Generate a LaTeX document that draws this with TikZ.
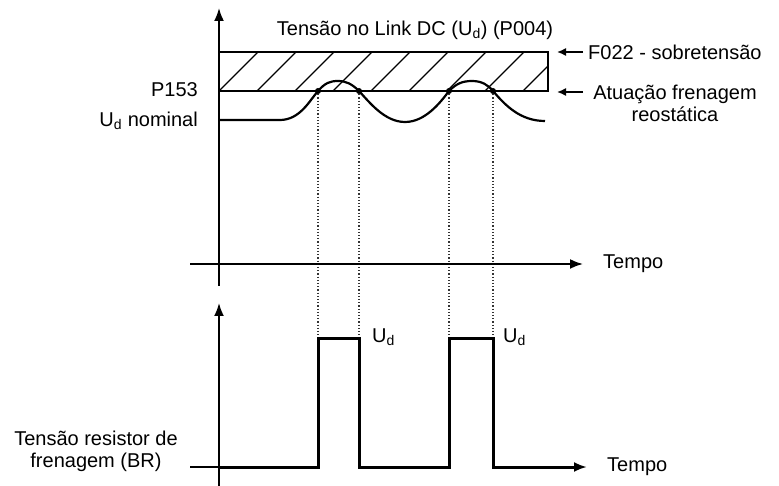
\documentclass[tikz,border=0pt]{standalone}
\usepackage{fontspec}
\setmainfont{Liberation Sans}
\usetikzlibrary{arrows.meta}
\begin{document}
\begin{tikzpicture}[x=1pt,y=-1pt,
  lbl/.style={inner sep=0pt,font=\fontsize{20}{22}\selectfont},
  axis/.style={line width=1.8pt,-{Latex[length=13,width=10]}},
  smallarr/.style={line width=1.5pt,-{Latex[length=9,width=8]}},
  dotline/.style={line width=1.2pt,dotted,black!80},
  curve/.style={line width=2.2pt},
  pulse/.style={line width=3pt,line join=miter},
  hatch/.style={line width=1.3pt},
  dotmark/.style={circle,fill=black,inner sep=0pt,minimum size=6pt}]
\useasboundingbox (0,0) rectangle (779,486);
% coordinates
\coordinate (yA0) at (219,286); \coordinate (yA1) at (219,8);
\coordinate (xA0) at (190,264); \coordinate (xA1) at (583,264);
\coordinate (yB0) at (219,486); \coordinate (yB1) at (219,303);
\coordinate (xB0) at (190,467); \coordinate (xB1) at (587,467);
\coordinate (rTL) at (219,52); \coordinate (rBR) at (548,91);
% hatched band
\begin{scope}
\clip (rTL) rectangle (rBR);
\foreach \k in {-1,0,...,9} {
  \draw[hatch] ({219+38*\k},91) -- ({219+38*\k+39},52);
}
\end{scope}
\draw[line width=1.8pt] (219,52) -- (548,52) -- (548,91) -- (219,91);
% curve
\draw[curve] (219,120) -- (280,120)
  .. controls (300,120) and (310,100) .. (318,91)
  .. controls (325,83) and (330,81) .. (338,81)
  .. controls (346,81) and (352,84) .. (359,91)
  .. controls (370,103) and (385,122) .. (405,122)
  .. controls (425,122) and (440,103) .. (449,91)
  .. controls (456,84) and (462,81) .. (472,81)
  .. controls (482,81) and (488,85) .. (493,91)
  .. controls (505,105) and (520,121) .. (545,121);
\node[dotmark] (d1) at (318,91) {};
\node[dotmark] (d2) at (359,91) {};
\node[dotmark] (d3) at (449,91) {};
\node[dotmark] (d4) at (493,91) {};
\coordinate (p1) at (318,338); \coordinate (p2) at (359,338);
\coordinate (p3) at (449,338); \coordinate (p4) at (493,338);
\draw[dotline] (d1) -- (p1);
\draw[dotline] (d2) -- (p2);
\draw[dotline] (d3) -- (p3);
\draw[dotline] (d4) -- (p4);
% axes
\draw[axis] (yA0) -- (yA1);
\draw[axis] (xA0) -- (xA1);
\draw[axis] (yB0) -- (yB1);
\draw[line width=1.5pt] (xB0) -- (219,467);
\draw[pulse] (219,467) -- (318,467) -- (p1) -- (p2) -- (359,467) -- (449,467) -- (p3) -- (p4) -- (493,467) -- (575,467);
\draw[line width=3pt,-{Latex[length=13,width=10]}] (570,467) -- (xB1);
% labels
\node[lbl] (title) at (415,30) {Tensão no Link DC (U\textsubscript{d}) (P004)};
\node[lbl,anchor=east] (p153) at (198,90) {P153};
\node[lbl,anchor=east] (udn) at (198,121) {U\textsubscript{d} nominal};
\node[lbl,anchor=west] (f022) at (588,52) {F022 - sobretensão};
\node[lbl,align=center] (atu) at (675,103) {Atuação frenagem\\reostática};
\coordinate (f022a) at (583,52); \coordinate (f022b) at (557,52);
\coordinate (atua) at (583,92); \coordinate (atub) at (557,92);
\draw[smallarr] (f022a) -- (f022b);
\draw[smallarr] (atua) -- (atub);
\node[lbl,anchor=west] (t1) at (603,264) {Tempo};
\node[lbl,anchor=west] (t2) at (607,467) {Tempo};
\node[lbl,anchor=west] (u1) at (372,337) {U\textsubscript{d}};
\node[lbl,anchor=west] (u2) at (503,337) {U\textsubscript{d}};
\node[lbl,align=center] (br) at (96,451) {Tensão resistor de\\frenagem (BR)};
\end{tikzpicture}
\end{document}
